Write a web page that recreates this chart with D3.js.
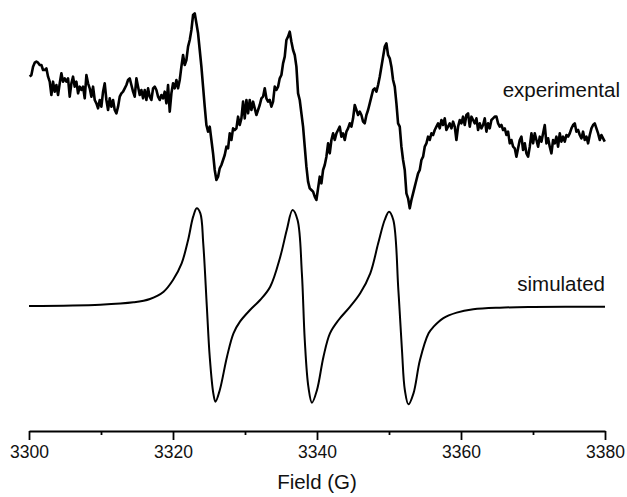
<!DOCTYPE html>
<html>
<head>
<meta charset="utf-8">
<script src="https://cdn.jsdelivr.net/npm/d3@7"></script>
<style>
	html, body { margin: 0; padding: 0; background: #fff; }
	svg { display: block; }
	text { font-family: "Liberation Sans", Arial, sans-serif; fill: #111; }
</style>
</head>
<body>
<div id="chart"></div>
<script>
'use strict';

// field axis (G)
var fieldDomain = [3300, 3380];
var majorTicks = [3300, 3320, 3340, 3360, 3380];
var minorTicks = [3310, 3330, 3350, 3370];

// experimental sweep: start field, step, intensities (arb. units, stacked above simulated)
var expStart = 3300.1;
var expStep = 0.2315;
var expValues = [
	688,693,718,730,733,730,723,723,708,708,713,688,673,633,673,643,663,633,668,698,
	673,683,673,683,628,668,688,658,673,638,658,648,658,623,693,668,653,628,658,618,
	608,593,618,598,643,668,618,588,623,598,618,588,578,598,628,638,643,653,663,678,
	683,663,643,628,683,658,633,648,623,648,618,653,628,618,653,658,648,628,618,633,
	623,643,608,663,583,638,668,653,678,653,678,718,753,723,738,778,798,828,873,878,
	848,818,768,718,658,598,543,523,538,498,458,408,378,388,
	413,423,438,453,478,473,518,498,533,528,533,568,543,563,613,563,618,578,618,588,
	613,593,573,588,603,623,628,653,623,613,618,598,613,658,648,658,683,693,728,748,
	798,808,823,793,768,753,718,638,618,578,538,478,418,373,353,348,343,328,318,353,
	388,368,408,423,448,488,458,498,518,498,518,528,538,508,518,498,523,533,548,538,
	563,603,588,573,583,573,553,548,573,588,608,628,648,653,643,663,688,718,748,778,
	788,753,743,718,678,658,608,548,538,478,438,408,338,323,293,318,338,358,378,398,
	408,438,448,478,488,508,498,518,513,528,538,548,533,558,543,563,528,538,548,533,
	553,538,498,538,558,548,568,543,573,578,538,568,558,548,563,528,548,533,543,563,
	523,548,533,558,563,568,568,548,538,543,528,533,513,523,488,498,478,473,448,473,
	498,508,468,488,458,448,478,518,488,518,498,478,508,493,518,543,488,503,478,458,
	498,488,508,478,518,493,508,493,513,508,518,533,543,548,523,528,513,503,523,498,
	508,488,513,533,543,548,533,518,498,513,503,493
];

// simulated spectrum
var simFields = [
	3300.0,3309.9,3314.5,3316.8,3318.7,3320.0,3321.2,3322.1,3322.8,3323.3,
	3323.8,3324.2,3324.7,3325.1,3325.6,3325.9,3326.5,3327.5,3328.4,3329.3,
	3330.7,3332.1,3333.5,3334.9,3335.8,3336.6,3337.3,3337.9,3338.3,3338.8,
	3339.3,3340.0,3340.9,3341.8,3343.0,3344.6,3346.0,3347.4,3348.5,3349.4,
	3350.0,3350.6,3351.3,3351.8,3352.2,3352.7,3353.4,3354.3,3355.5,3356.2,
	3357.5,3359.4,3361.7,3365.4,3370.0,3380.0
];
var simValues = [
	0,4,11,21,43,78,128,198,268,293,
	278,188,-2,-152,-262,-287,-252,-152,-82,-47,
	-12,18,58,148,228,288,258,98,-102,-242,
	-290,-252,-152,-82,-42,-2,38,98,188,258,
	283,258,48,-132,-252,-295,-262,-162,-82,-62,
	-37,-20,-10,-5,-3,-2
];

var labels = ['experimental', 'simulated'];

var width = 627;
var height = 497;
var margin = {top: 0, right: 22, bottom: 66, left: 29};
var plotW = width - margin.left - margin.right;
var plotH = height - margin.top - margin.bottom;

var svg = d3.select('#chart').append('svg')
	.attr('width', width)
	.attr('height', height)
	.append('g')
		.attr('transform', 'translate(' + margin.left + ',' + margin.top + ')');

var x = d3.scaleLinear().domain(fieldDomain).range([0, plotW]);
var y = d3.scaleLinear().domain([-375, 918]).range([plotH, 0]);

var expData = expValues.map(function(v, i){ return [expStart + i * expStep, v]; });
var simData = simFields.map(function(f, i){ return [f, simValues[i]]; });

var line = d3.line()
	.x(function(d){ return x(d[0]); })
	.y(function(d){ return y(d[1]); });

svg.append('path')
	.datum(expData)
	.attr('fill', 'none')
	.attr('stroke', '#000')
	.attr('stroke-width', 2.6)
	.attr('stroke-linejoin', 'round')
	.attr('d', line.curve(d3.curveLinear));

svg.append('path')
	.datum(simData)
	.attr('fill', 'none')
	.attr('stroke', '#000')
	.attr('stroke-width', 2)
	.attr('d', line.curve(d3.curveCatmullRom.alpha(0.5)));

// axes
var minorAxis = svg.append('g')
	.attr('transform', 'translate(0,' + plotH + ')')
	.call(d3.axisBottom(x).tickValues(minorTicks).tickSize(4).tickSizeOuter(0).tickFormat(''));
minorAxis.select('.domain').remove();

var majorAxis = svg.append('g')
	.attr('transform', 'translate(0,' + plotH + ')')
	.call(d3.axisBottom(x).tickValues(majorTicks).tickSize(9).tickSizeOuter(0).tickPadding(6).tickFormat(d3.format('d')));

svg.selectAll('.tick line, .domain')
	.attr('stroke', '#000')
	.attr('stroke-width', 1.8);

majorAxis.selectAll('text')
	.attr('font-size', 17.5)
	.attr('font-family', '"Liberation Sans", Arial, sans-serif')
	.attr('fill', '#111');

svg.append('text')
	.attr('x', x(3340))
	.attr('y', 489)
	.attr('text-anchor', 'middle')
	.attr('font-size', 20.5)
	.text('Field (G)');

svg.append('text')
	.attr('x', 620 - margin.left)
	.attr('y', 97)
	.attr('text-anchor', 'end')
	.attr('font-size', 20.5)
	.text(labels[0]);

svg.append('text')
	.attr('x', 605 - margin.left)
	.attr('y', 291)
	.attr('text-anchor', 'end')
	.attr('font-size', 20.5)
	.text(labels[1]);
</script>
</body>
</html>
